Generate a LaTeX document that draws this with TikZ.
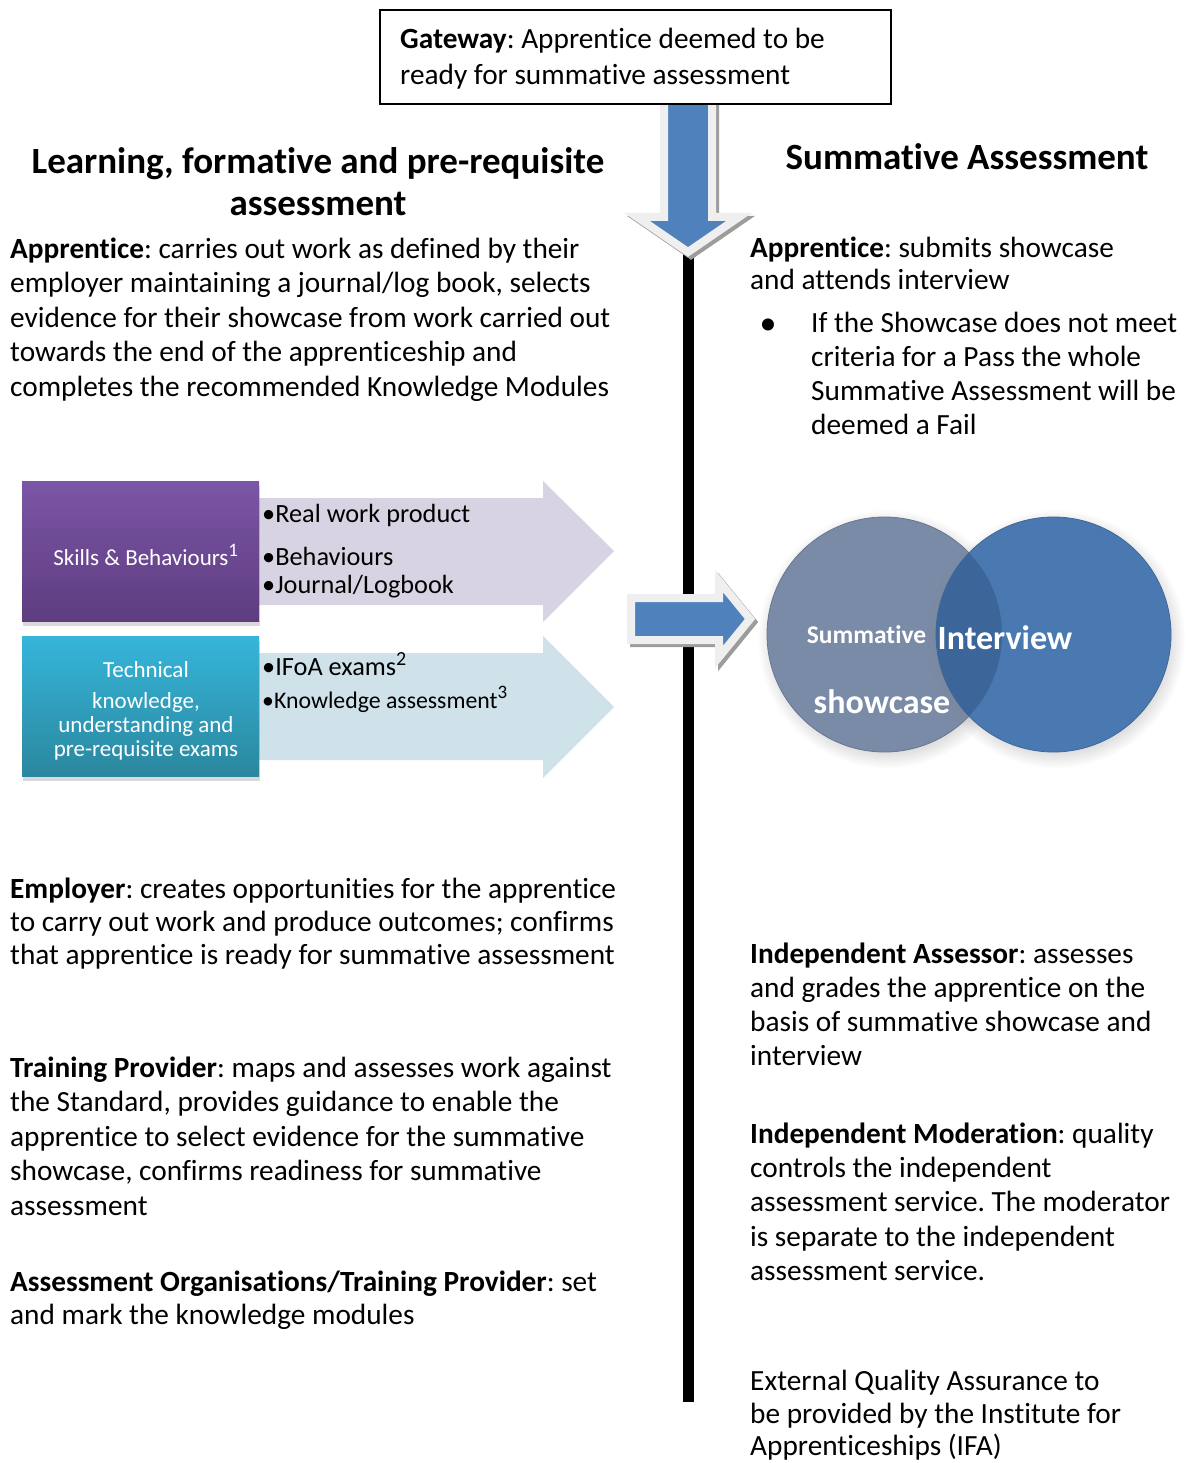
\documentclass[tikz,border=0pt]{standalone}
\usepackage{fontspec}
\setmainfont[Ligatures=NoCommon]{Carlito}
\frenchspacing
\usetikzlibrary{shadows}
\definecolor{arrowblue}{HTML}{4F81BD}
\definecolor{arrowedge}{HTML}{EFEFEF}
\definecolor{arrowshade}{HTML}{9C9C9C}
\definecolor{purpletop}{HTML}{7B56A6}
\definecolor{purplebot}{HTML}{5E3C7F}
\definecolor{purplelight}{HTML}{D8D3E2}
\definecolor{cyantop}{HTML}{36B5DA}
\definecolor{cyanbot}{HTML}{2A879E}
\definecolor{cyanlight}{HTML}{CFE2EA}
\definecolor{circgray}{HTML}{7A8BA7}
\definecolor{circblue}{HTML}{4A79B2}
\definecolor{circover}{HTML}{3C6599}
\tikzset{
  bodytext/.style={anchor=north west, inner sep=0pt, align=left},
  headtext/.style={anchor=north, inner sep=0pt, align=center, font=\fontsize{37}{42}\selectfont\bfseries},
  boxlabel/.style={inner sep=0pt, text=white, align=center, font=\fontsize{23}{24}\selectfont},
  colbox/.style={anchor=north west, minimum width=237pt, minimum height=140pt, inner sep=0pt,
     drop shadow={shadow xshift=1pt, shadow yshift=-5pt, opacity=0.3}},
  bigarrow/.style={draw=arrowedge, line width=8pt, fill=arrowblue, line join=miter},
  arrowshadow/.style={draw=arrowshade, line width=8pt, fill=arrowshade, line join=miter},
  itemtext/.style={anchor=base west, inner sep=0pt, font=\fontsize{26.3}{30}\selectfont},
  circtext/.style={anchor=base, inner sep=0pt, text=white, font=\bfseries},
}
\begin{document}
\begin{tikzpicture}[x=1pt,y=-1pt]
\useasboundingbox (0,0) rectangle (1186,1463);

% vertical time line
\coordinate (ltop) at (688,245);
\coordinate (lbot) at (688,1402);
\draw[line width=11pt] (ltop) -- (lbot);

% down arrow from the gateway
\path[arrowshadow, shift={(3,3)}] (664,100) -- (664,217) -- (637,217) -- (688,252) -- (739,217) -- (712,217) -- (712,100) -- cycle;
\path[bigarrow] (664,100) -- (664,217) -- (637,217) -- (688,252) -- (739,217) -- (712,217) -- (712,100) -- cycle;

% gateway box
\node[draw, line width=2pt, fill=white, anchor=north west, minimum width=511pt, minimum height=94pt, inner sep=0pt] (gate) at (379,9) {};
\node[bodytext, font=\fontsize{29.3}{36}\selectfont] (gatetext) at (400,23) {\strut\textbf{Gateway}: Apprentice deemed to be\\ready for summative assessment};

% headings
\node[headtext] (lhead) at (318,143.6) {\strut Learning, formative and pre-requisite\\assessment};
\node[headtext] (rhead) at (967,139.6) {\strut Summative Assessment};

% left column texts
\node[bodytext, font=\fontsize{29.3}{34.5}\selectfont] (lapp) at (10,233.85) {\strut\textbf{Apprentice}: carries out work as defined by their\\employer maintaining a journal/log book, selects\\evidence for their showcase from work carried out\\towards the end of the apprenticeship and\\completes the recommended Knowledge Modules};
\node[bodytext, font=\fontsize{29.3}{33}\selectfont] (lemp) at (10,874.9) {\strut\textbf{Employer}: creates opportunities for the apprentice\\to carry out work and produce outcomes; confirms\\that apprentice is ready for summative assessment};
\node[bodytext, font=\fontsize{29.3}{34.5}\selectfont] (ltrain) at (10,1052.85) {\strut\textbf{Training Provider}: maps and assesses work against\\the Standard, provides guidance to enable the\\apprentice to select evidence for the summative\\showcase, confirms readiness for summative\\assessment};
\node[bodytext, font=\fontsize{29.3}{33}\selectfont] (lao) at (10,1267.9) {\strut\textbf{Assessment Organisations/Training Provider}: set\\and mark the knowledge modules};

% right column texts
\node[bodytext, font=\fontsize{29.3}{32}\selectfont] (rapp) at (750,234.6) {\strut\textbf{Apprentice}: submits showcase\\and attends interview};
\node[anchor=base, inner sep=0pt, font=\fontsize{34}{34}\selectfont] (rbul) at (768,334) {\textbullet};
\node[bodytext, font=\fontsize{29.3}{34}\selectfont] (rfail) at (811,308.2) {\strut If the Showcase does not meet\\criteria for a Pass the whole\\Summative Assessment will be\\deemed a Fail};
\node[bodytext, font=\fontsize{29.3}{34}\selectfont] (rass) at (750,939.2) {\strut\textbf{Independent Assessor}: assesses\\and grades the apprentice on the\\basis of summative showcase and\\interview};
\node[bodytext, font=\fontsize{29.3}{34.3}\selectfont] (rmod) at (750,1119) {\strut\textbf{Independent Moderation}: quality\\controls the independent\\assessment service. The moderator\\is separate to the independent\\assessment service.};
\node[bodytext, font=\fontsize{29.3}{32.5}\selectfont] (rext) at (750,1368) {\strut External Quality Assurance to\\be provided by the Institute for\\Apprenticeships (IFA)};

% light arrows behind the coloured boxes
\fill[purplelight] (259,498) -- (543,498) -- (543,481) -- (614,551) -- (543,622) -- (543,605) -- (259,605) -- cycle;
\fill[cyanlight] (259,653) -- (543,653) -- (543,636) -- (614,707) -- (543,778) -- (543,760) -- (259,760) -- cycle;

% coloured boxes
\node[colbox, top color=purpletop, bottom color=purplebot] (skills) at (22,481) {};
\node[boxlabel, font=\fontsize{23}{24}\selectfont] (skillstext) at (146,555) {Skills \& Behaviours\textsuperscript{\fontsize{19}{20}\selectfont 1}};
\node[colbox, top color=cyantop, bottom color=cyanbot] (tech) at (22,636) {};
\node[boxlabel, anchor=north, font=\fontsize{23}{24}\selectfont] (techtext) at (146,660) {\strut Technical\\[7pt]knowledge,\\understanding and\\pre-requisite exams};

% items in the light arrows
\node[itemtext] (iwork) at (262,522) {•Real work product};
\node[itemtext] (ibeh) at (262,565) {•Behaviours};
\node[itemtext] (ilog) at (262,593) {•Journal/Logbook};
\node[itemtext] (iifoa) at (262,675) {•IFoA exams\textsuperscript{\fontsize{20}{20}\selectfont 2}};
\node[itemtext, font=\fontsize{23.8}{28}\selectfont] (iknow) at (262,708) {•Knowledge assessment\textsuperscript{\fontsize{19}{20}\selectfont 3}};

% right arrow to the summative assessment
\path[arrowshadow, shift={(3,3)}] (631,598) -- (719,598) -- (719,581) -- (750,619) -- (719,657) -- (719,640) -- (631,640) -- cycle;
\path[bigarrow] (631,598) -- (719,598) -- (719,581) -- (750,619) -- (719,657) -- (719,640) -- (631,640) -- cycle;

% Venn circles
\node[circle, minimum size=235pt, inner sep=0pt, fill=circgray, draw=circgray!85!black, line width=0.8pt,
      circular drop shadow={shadow xshift=2pt, shadow yshift=-4pt, opacity=0.3}] (showc) at (884.5,634.5) {};
\node[circle, minimum size=235pt, inner sep=0pt, fill=circblue, draw=circblue!85!black, line width=0.8pt,
      circular drop shadow={shadow xshift=2pt, shadow yshift=-4pt, opacity=0.3}] (interv) at (1053.5,634.5) {};
\begin{scope}
  \clip (showc.center) circle (117.5);
  \fill[circover] (interv.center) circle (117.5);
\end{scope}
\node[circtext, font=\fontsize{25.5}{28}\selectfont\bfseries] (csum) at (866.5,643) {Summative};
\node[circtext, font=\fontsize{34}{36}\selectfont\bfseries] (cint) at (1005,649) {Interview};
\node[circtext, font=\fontsize{34}{36}\selectfont\bfseries] (cshow) at (882,713) {showcase};
\end{tikzpicture}
\end{document}
